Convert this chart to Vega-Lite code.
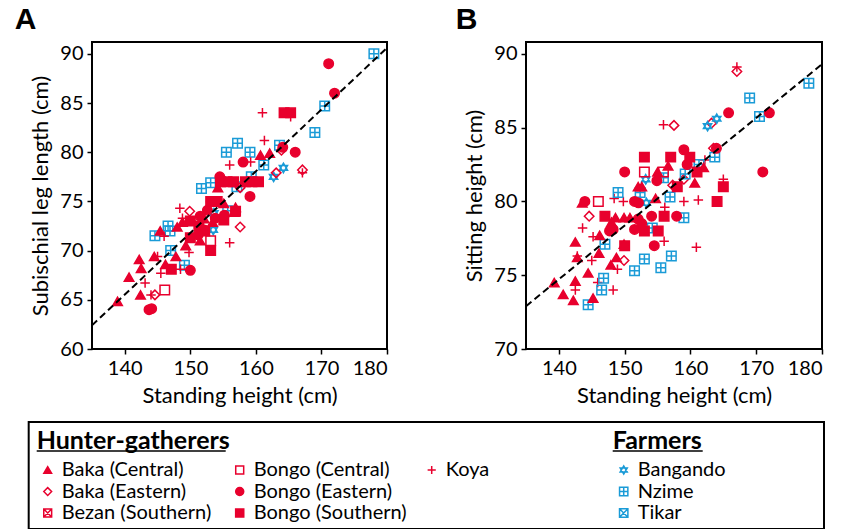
{
  "$schema": "https://vega.github.io/schema/vega-lite/v6.json",
  "padding": {"left": 13, "top": 4, "right": 0, "bottom": 1},
  "background": "white",
  "config": {
    "view": {"stroke": "black", "strokeWidth": 2},
    "axis": {"labelFont": "Lato", "labelFontSize": 20, "titleFont": "Lato", "titleFontSize": 22, "titleFontWeight": "normal", "labelColor": "black", "titleColor": "black", "tickColor": "black", "tickSize": 5, "tickWidth": 1.5, "domain": false, "grid": false, "labelPadding": 4, "titlePadding": 7, "labelOverlap": false},
    "title": {"font": "Liberation Sans", "fontSize": 30, "fontWeight": "bold", "anchor": "start", "frame": "bounds", "color": "black", "baseline": "alphabetic", "offset": 7}
  },
  "datasets": {
    "A": [
      {"g":"Nzime","h":178,"v":90},{"g":"Nzime","h":170.5,"v":84.7},{"g":"Nzime","h":169,"v":82},{"g":"Nzime","h":163.6,"v":80.7},{"g":"Nzime","h":161.2,"v":78.7},{"g":"Nzime","h":155.5,"v":80},{"g":"Nzime","h":157.2,"v":80.9},{"g":"Nzime","h":159.1,"v":80},{"g":"Nzime","h":159.3,"v":77.5},{"g":"Nzime","h":157.1,"v":76.5},{"g":"Nzime","h":151.7,"v":76.3},{"g":"Nzime","h":153.1,"v":76.9},{"g":"Nzime","h":155.7,"v":74.05},{"g":"Nzime","h":146.6,"v":72.5},{"g":"Nzime","h":146.9,"v":72},{"g":"Nzime","h":144.6,"v":71.5},{"g":"Nzime","h":147,"v":70},{"g":"Nzime","h":149.1,"v":68.5},
      {"g":"Bangando","h":164.2,"v":78.4},{"g":"Bangando","h":162.7,"v":77.5},{"g":"Bangando","h":153.6,"v":73.8},{"g":"Bangando","h":153.5,"v":72.1},
      {"g":"Baka (Eastern)","h":163.9,"v":80.2},{"g":"Baka (Eastern)","h":163.1,"v":77.9},{"g":"Baka (Eastern)","h":167.1,"v":78.2},{"g":"Baka (Eastern)","h":157.6,"v":76.4},{"g":"Baka (Eastern)","h":149.9,"v":74},{"g":"Baka (Eastern)","h":157.6,"v":72.4},{"g":"Baka (Eastern)","h":144.6,"v":65.5},
      {"g":"Bongo (Central)","h":153.1,"v":71},{"g":"Bongo (Central)","h":146.1,"v":66},
      {"g":"Koya","h":161,"v":84},{"g":"Koya","h":161.3,"v":81.2},{"g":"Koya","h":165.3,"v":83.6},{"g":"Koya","h":156,"v":78.7},{"g":"Koya","h":159.2,"v":79},{"g":"Koya","h":167.1,"v":77.9},{"g":"Koya","h":148.4,"v":74.3},{"g":"Koya","h":148.8,"v":73.3},{"g":"Koya","h":156,"v":70.8},{"g":"Koya","h":146,"v":71.45},{"g":"Koya","h":149.8,"v":69.8},{"g":"Koya","h":145.5,"v":67.7},{"g":"Koya","h":148.5,"v":68.1},{"g":"Koya","h":143.1,"v":66.7},{"g":"Koya","h":144,"v":65.5},{"g":"Koya","h":145,"v":69.4},
      {"g":"Bongo (Southern)","h":164.3,"v":84},{"g":"Bongo (Southern)","h":165.3,"v":84},{"g":"Bongo (Southern)","h":154.6,"v":77},{"g":"Bongo (Southern)","h":155.6,"v":77},{"g":"Bongo (Southern)","h":156.6,"v":77},{"g":"Bongo (Southern)","h":158.4,"v":77},{"g":"Bongo (Southern)","h":159.4,"v":77},{"g":"Bongo (Southern)","h":160.4,"v":77},{"g":"Bongo (Southern)","h":153.1,"v":75},{"g":"Bongo (Southern)","h":154.1,"v":75},{"g":"Bongo (Southern)","h":156.9,"v":74},{"g":"Bongo (Southern)","h":155.1,"v":73.1},{"g":"Bongo (Southern)","h":150,"v":73},{"g":"Bongo (Southern)","h":150,"v":71.3},{"g":"Bongo (Southern)","h":153.1,"v":70},{"g":"Bongo (Southern)","h":147.1,"v":68.1},{"g":"Bongo (Southern)","h":151.3,"v":72.5},{"g":"Bongo (Southern)","h":152.2,"v":72},
      {"g":"Bongo (Eastern)","h":171.1,"v":89},{"g":"Bongo (Eastern)","h":172,"v":86},{"g":"Bongo (Eastern)","h":164.1,"v":80.5},{"g":"Bongo (Eastern)","h":166,"v":80},{"g":"Bongo (Eastern)","h":158.05,"v":79},{"g":"Bongo (Eastern)","h":154.5,"v":77.5},{"g":"Bongo (Eastern)","h":159.1,"v":75.5},{"g":"Bongo (Eastern)","h":152.6,"v":74.1},{"g":"Bongo (Eastern)","h":151.5,"v":73.5},{"g":"Bongo (Eastern)","h":153.8,"v":73.3},{"g":"Bongo (Eastern)","h":152.1,"v":72.1},{"g":"Bongo (Eastern)","h":150,"v":68},{"g":"Bongo (Eastern)","h":143.7,"v":64},{"g":"Bongo (Eastern)","h":144.1,"v":64.1},{"g":"Bongo (Eastern)","h":155.2,"v":73.6},{"g":"Bongo (Eastern)","h":151.2,"v":71.6},{"g":"Bongo (Eastern)","h":153.2,"v":75},
      {"g":"Baka (Central)","h":160.7,"v":79.7},{"g":"Baka (Central)","h":162.1,"v":79.9},{"g":"Baka (Central)","h":154.2,"v":76.4},{"g":"Baka (Central)","h":155.1,"v":74.8},{"g":"Baka (Central)","h":156.9,"v":74.4},{"g":"Baka (Central)","h":152.1,"v":73.25},{"g":"Baka (Central)","h":148,"v":72.4},{"g":"Baka (Central)","h":145.4,"v":72},{"g":"Baka (Central)","h":142.2,"v":69.1},{"g":"Baka (Central)","h":142.5,"v":68.2},{"g":"Baka (Central)","h":140.65,"v":67.3},{"g":"Baka (Central)","h":146.2,"v":68.6},{"g":"Baka (Central)","h":144.5,"v":69.4},{"g":"Baka (Central)","h":147.8,"v":69.4},{"g":"Baka (Central)","h":142.4,"v":65.5},{"g":"Baka (Central)","h":138.9,"v":64.85},{"g":"Baka (Central)","h":148.8,"v":72.9},{"g":"Baka (Central)","h":151.5,"v":71},{"g":"Baka (Central)","h":153.4,"v":72.9},{"g":"Baka (Central)","h":156.7,"v":73.9},{"g":"Baka (Central)","h":149.3,"v":70.5}
    ],
    "B": [
      {"g":"Koya","h":167.06,"v":89.1},{"g":"Koya","h":155.9,"v":85.2},{"g":"Koya","h":162.2,"v":82.8},{"g":"Koya","h":165,"v":81.5},{"g":"Koya","h":156.1,"v":79.6},{"g":"Koya","h":159,"v":80},{"g":"Koya","h":161.2,"v":80.1},{"g":"Koya","h":148.4,"v":80.2},{"g":"Koya","h":149.8,"v":80},{"g":"Koya","h":156,"v":77.3},{"g":"Koya","h":160.9,"v":76.9},{"g":"Koya","h":143.6,"v":78.2},{"g":"Koya","h":145.2,"v":77.6},{"g":"Koya","h":142.8,"v":76.3},{"g":"Koya","h":145,"v":76},{"g":"Koya","h":148.9,"v":75.4},{"g":"Koya","h":148.25,"v":74},{"g":"Koya","h":142.5,"v":74},{"g":"Koya","h":145.9,"v":74.5},
      {"g":"Baka (Eastern)","h":167.06,"v":88.8},{"g":"Baka (Eastern)","h":157.5,"v":85.15},{"g":"Baka (Eastern)","h":163.2,"v":85.3},{"g":"Baka (Eastern)","h":163.5,"v":83.6},{"g":"Baka (Eastern)","h":159,"v":81.5},{"g":"Baka (Eastern)","h":157.3,"v":81.1},{"g":"Baka (Eastern)","h":144.6,"v":79},{"g":"Baka (Eastern)","h":149.9,"v":76},
      {"g":"Bangando","h":162.6,"v":85.1},{"g":"Bangando","h":164,"v":85.6},{"g":"Bangando","h":153.2,"v":81.5},{"g":"Bangando","h":153.3,"v":79.9},
      {"g":"Nzime","h":178,"v":88},{"g":"Nzime","h":169,"v":87},{"g":"Nzime","h":170.5,"v":85.75},{"g":"Nzime","h":163.7,"v":83},{"g":"Nzime","h":161.3,"v":82.5},{"g":"Nzime","h":155.9,"v":81.6},{"g":"Nzime","h":159.2,"v":81.85},{"g":"Nzime","h":156.9,"v":80.3},{"g":"Nzime","h":149,"v":80.6},{"g":"Nzime","h":152.35,"v":80.6},{"g":"Nzime","h":154.2,"v":78.2},{"g":"Nzime","h":159,"v":78.9},{"g":"Nzime","h":147,"v":77.1},{"g":"Nzime","h":153,"v":76.1},{"g":"Nzime","h":157.1,"v":76.3},{"g":"Nzime","h":155.5,"v":75.5},{"g":"Nzime","h":151.5,"v":75.3},{"g":"Nzime","h":146.8,"v":74.8},{"g":"Nzime","h":146.5,"v":74},{"g":"Nzime","h":144.45,"v":73},
      {"g":"Bongo (Eastern)","h":165.8,"v":86},{"g":"Bongo (Eastern)","h":172,"v":86},{"g":"Bongo (Eastern)","h":171,"v":82},{"g":"Bongo (Eastern)","h":163.95,"v":83.6},{"g":"Bongo (Eastern)","h":159,"v":83.5},{"g":"Bongo (Eastern)","h":159.5,"v":82.5},{"g":"Bongo (Eastern)","h":150,"v":82},{"g":"Bongo (Eastern)","h":154.9,"v":81.4},{"g":"Bongo (Eastern)","h":143.95,"v":80},{"g":"Bongo (Eastern)","h":151.5,"v":80},{"g":"Bongo (Eastern)","h":152.1,"v":79.9},{"g":"Bongo (Eastern)","h":154.1,"v":79},{"g":"Bongo (Eastern)","h":157.9,"v":79},{"g":"Bongo (Eastern)","h":151.5,"v":78.1},{"g":"Bongo (Eastern)","h":148.25,"v":78.1},{"g":"Bongo (Eastern)","h":147.7,"v":78},{"g":"Bongo (Eastern)","h":154.5,"v":77},{"g":"Bongo (Eastern)","h":152.05,"v":78.8},{"g":"Bongo (Eastern)","h":152.6,"v":78.5},
      {"g":"Bongo (Southern)","h":153,"v":83},{"g":"Bongo (Southern)","h":157,"v":83},{"g":"Bongo (Southern)","h":159.9,"v":83},{"g":"Bongo (Southern)","h":161,"v":82},{"g":"Bongo (Southern)","h":165,"v":81},{"g":"Bongo (Southern)","h":158,"v":81},{"g":"Bongo (Southern)","h":164.05,"v":80},{"g":"Bongo (Southern)","h":147,"v":79},{"g":"Bongo (Southern)","h":156,"v":79},{"g":"Bongo (Southern)","h":153,"v":78},{"g":"Bongo (Southern)","h":155.1,"v":78},{"g":"Bongo (Southern)","h":150,"v":77},
      {"g":"Bongo (Central)","h":153,"v":82},{"g":"Bongo (Central)","h":155.9,"v":82},{"g":"Bongo (Central)","h":146,"v":80},
      {"g":"Baka (Central)","h":156.6,"v":82.4},{"g":"Baka (Central)","h":155,"v":82},{"g":"Baka (Central)","h":162,"v":82.3},{"g":"Baka (Central)","h":160.65,"v":81.25},{"g":"Baka (Central)","h":152.05,"v":81},{"g":"Baka (Central)","h":152.6,"v":81},{"g":"Baka (Central)","h":154.7,"v":80.2},{"g":"Baka (Central)","h":143.55,"v":79.9},{"g":"Baka (Central)","h":148.6,"v":78.9},{"g":"Baka (Central)","h":149.9,"v":78.9},{"g":"Baka (Central)","h":150.8,"v":78.9},{"g":"Baka (Central)","h":149.9,"v":77.1},{"g":"Baka (Central)","h":146.2,"v":77.7},{"g":"Baka (Central)","h":142.5,"v":77.25},{"g":"Baka (Central)","h":142.8,"v":76.2},{"g":"Baka (Central)","h":146.1,"v":76.5},{"g":"Baka (Central)","h":148.75,"v":76.2},{"g":"Baka (Central)","h":147.9,"v":75.7},{"g":"Baka (Central)","h":144.45,"v":75.15},{"g":"Baka (Central)","h":142.5,"v":74.6},{"g":"Baka (Central)","h":139.3,"v":74.5},{"g":"Baka (Central)","h":140.65,"v":73.7},{"g":"Baka (Central)","h":142.2,"v":73.3},{"g":"Baka (Central)","h":145.2,"v":73.45},{"g":"Baka (Central)","h":148,"v":78.6}
    ],
    "lineA": [{"h":135,"v":62.4},{"h":180,"v":90.6}],
    "lineB": [{"h":135,"v":72.9},{"h":180,"v":89.3}],
    "legendItems": [
      {"g":"Baka (Central)","col":0,"row":1},{"g":"Baka (Eastern)","col":0,"row":2},{"g":"Bezan (Southern)","col":0,"row":3},
      {"g":"Bongo (Central)","col":1,"row":1},{"g":"Bongo (Eastern)","col":1,"row":2},{"g":"Bongo (Southern)","col":1,"row":3},
      {"g":"Koya","col":2,"row":1},
      {"g":"Bangando","col":3,"row":1},{"g":"Nzime","col":3,"row":2},{"g":"Tikar","col":3,"row":3}
    ],
    "legendTitles": [{"label":"Hunter-gatherers","col":0,"row":0},{"label":"Farmers","col":3,"row":0}]
  },
  "resolve": {"scale": {"x": "independent", "y": "independent", "size": "independent"}},
  "spacing": 14,
  "vconcat": [
    {
      "hconcat": [
        {
          "width": 295, "height": 307,
          "title": {"text": "A", "dx": -15},
          "layer": [
            {
              "data": {"name": "A"},
              "mark": {"type": "point", "strokeWidth": 1.5, "opacity": 1},
              "encoding": {
                "x": {"field": "h", "type": "quantitative", "scale": {"domain": [135, 180], "nice": false, "zero": false}, "axis": {"title": "Standing height (cm)", "values": [140,150,160,170,180]}},
                "y": {"field": "v", "type": "quantitative", "scale": {"domain": [60, 91.2], "nice": false, "zero": false}, "axis": {"title": "Subischial leg length (cm)", "values": [60,65,70,75,80,85,90]}},
                "shape": {"field": "g", "type": "nominal", "legend": null, "scale": {"domain": ["Baka (Central)","Baka (Eastern)","Bezan (Southern)","Bongo (Central)","Bongo (Eastern)","Bongo (Southern)","Koya","Bangando","Nzime","Tikar"], "range": ["triangle-up","diamond","M-1,-1H1V1H-1ZM-1,-1L1,1M1,-1L-1,1","square","circle","square","M-1,0H1M0,-1V1","M0,-1L0.866,0.5L-0.866,0.5ZM0,1L0.866,-0.5L-0.866,-0.5Z","M-1,-1H1V1H-1ZM-1,0H1M0,-1V1","M-1,-1H1V1H-1ZM-1,-1L1,1M1,-1L-1,1"]}},
                "fill": {"field": "g", "type": "nominal", "legend": null, "scale": {"domain": ["Baka (Central)","Baka (Eastern)","Bezan (Southern)","Bongo (Central)","Bongo (Eastern)","Bongo (Southern)","Koya","Bangando","Nzime","Tikar"], "range": ["#E8002D","transparent","transparent","transparent","#E8002D","#E8002D","transparent","transparent","transparent","transparent"]}},
                "stroke": {"field": "g", "type": "nominal", "legend": null, "scale": {"domain": ["Baka (Central)","Baka (Eastern)","Bezan (Southern)","Bongo (Central)","Bongo (Eastern)","Bongo (Southern)","Koya","Bangando","Nzime","Tikar"], "range": ["#E8002D","#E8002D","#E8002D","#E8002D","#E8002D","#E8002D","#E8002D","#1A9BD7","#1A9BD7","#1A9BD7"]}},
                "size": {"field": "g", "type": "nominal", "legend": null, "scale": {"domain": ["Baka (Central)","Baka (Eastern)","Bezan (Southern)","Bongo (Central)","Bongo (Eastern)","Bongo (Southern)","Koya","Bangando","Nzime","Tikar"], "range": [90,90,64,72,81,81,110,100,64,64]}}
              }
            },
            {
              "data": {"name": "lineA"},
              "mark": {"type": "line", "color": "black", "strokeDash": [7, 4], "strokeWidth": 2},
              "encoding": {
                "x": {"field": "h", "type": "quantitative"},
                "y": {"field": "v", "type": "quantitative"}
              }
            }
          ]
        },
        {
          "width": 296, "height": 307,
          "title": {"text": "B", "dx": -8},
          "layer": [
            {
              "data": {"name": "B"},
              "mark": {"type": "point", "strokeWidth": 1.5, "opacity": 1},
              "encoding": {
                "x": {"field": "h", "type": "quantitative", "scale": {"domain": [135, 180], "nice": false, "zero": false}, "axis": {"title": "Standing height (cm)", "values": [140,150,160,170,180]}},
                "y": {"field": "v", "type": "quantitative", "scale": {"domain": [70, 90.8], "nice": false, "zero": false}, "axis": {"title": "Sitting height (cm)", "values": [70,75,80,85,90]}},
                "shape": {"field": "g", "type": "nominal", "legend": null, "scale": {"domain": ["Baka (Central)","Baka (Eastern)","Bezan (Southern)","Bongo (Central)","Bongo (Eastern)","Bongo (Southern)","Koya","Bangando","Nzime","Tikar"], "range": ["triangle-up","diamond","M-1,-1H1V1H-1ZM-1,-1L1,1M1,-1L-1,1","square","circle","square","M-1,0H1M0,-1V1","M0,-1L0.866,0.5L-0.866,0.5ZM0,1L0.866,-0.5L-0.866,-0.5Z","M-1,-1H1V1H-1ZM-1,0H1M0,-1V1","M-1,-1H1V1H-1ZM-1,-1L1,1M1,-1L-1,1"]}},
                "fill": {"field": "g", "type": "nominal", "legend": null, "scale": {"domain": ["Baka (Central)","Baka (Eastern)","Bezan (Southern)","Bongo (Central)","Bongo (Eastern)","Bongo (Southern)","Koya","Bangando","Nzime","Tikar"], "range": ["#E8002D","transparent","transparent","transparent","#E8002D","#E8002D","transparent","transparent","transparent","transparent"]}},
                "stroke": {"field": "g", "type": "nominal", "legend": null, "scale": {"domain": ["Baka (Central)","Baka (Eastern)","Bezan (Southern)","Bongo (Central)","Bongo (Eastern)","Bongo (Southern)","Koya","Bangando","Nzime","Tikar"], "range": ["#E8002D","#E8002D","#E8002D","#E8002D","#E8002D","#E8002D","#E8002D","#1A9BD7","#1A9BD7","#1A9BD7"]}},
                "size": {"field": "g", "type": "nominal", "legend": null, "scale": {"domain": ["Baka (Central)","Baka (Eastern)","Bezan (Southern)","Bongo (Central)","Bongo (Eastern)","Bongo (Southern)","Koya","Bangando","Nzime","Tikar"], "range": [90,90,64,72,81,81,110,100,64,64]}}
              }
            },
            {
              "data": {"name": "lineB"},
              "mark": {"type": "line", "color": "black", "strokeDash": [7, 4], "strokeWidth": 2},
              "encoding": {
                "x": {"field": "h", "type": "quantitative"},
                "y": {"field": "v", "type": "quantitative"}
              }
            }
          ]
        }
      ],
      "spacing": 62,
      "resolve": {"scale": {"x": "independent", "y": "independent"}}
    },
    {
      "width": 732, "height": 107,
      "view": {"stroke": null},
      "layer": [
        {
          "data": {"values": [{}]},
          "mark": {"type": "rect", "fill": null, "stroke": "black", "strokeWidth": 2},
          "encoding": {
            "x": {"datum": -0.099, "type": "quantitative", "scale": {"domain": [0.2307, 4.0432], "nice": false, "zero": false}, "axis": null},
            "x2": {"datum": 4.0432},
            "y": {"datum": -1.233, "type": "quantitative", "scale": {"domain": [-1.233, 3.744], "nice": false, "zero": false, "reverse": true}, "axis": null},
            "y2": {"datum": 3.744}
          }
        },
        {
          "data": {"name": "legendItems"},
          "mark": {"type": "point", "strokeWidth": 1.5, "opacity": 1},
          "encoding": {
            "x": {"field": "col", "type": "quantitative"},
            "y": {"field": "row", "type": "quantitative"},
            "shape": {"field": "g", "type": "nominal", "legend": null, "scale": {"domain": ["Baka (Central)","Baka (Eastern)","Bezan (Southern)","Bongo (Central)","Bongo (Eastern)","Bongo (Southern)","Koya","Bangando","Nzime","Tikar"], "range": ["triangle-up","diamond","M-1,-1H1V1H-1ZM-1,-1L1,1M1,-1L-1,1","square","circle","square","M-1,0H1M0,-1V1","M0,-1L0.866,0.5L-0.866,0.5ZM0,1L0.866,-0.5L-0.866,-0.5Z","M-1,-1H1V1H-1ZM-1,0H1M0,-1V1","M-1,-1H1V1H-1ZM-1,-1L1,1M1,-1L-1,1"]}},
            "fill": {"field": "g", "type": "nominal", "legend": null, "scale": {"domain": ["Baka (Central)","Baka (Eastern)","Bezan (Southern)","Bongo (Central)","Bongo (Eastern)","Bongo (Southern)","Koya","Bangando","Nzime","Tikar"], "range": ["#E8002D","transparent","transparent","transparent","#E8002D","#E8002D","transparent","transparent","transparent","transparent"]}},
            "stroke": {"field": "g", "type": "nominal", "legend": null, "scale": {"domain": ["Baka (Central)","Baka (Eastern)","Bezan (Southern)","Bongo (Central)","Bongo (Eastern)","Bongo (Southern)","Koya","Bangando","Nzime","Tikar"], "range": ["#E8002D","#E8002D","#E8002D","#E8002D","#E8002D","#E8002D","#E8002D","#1A9BD7","#1A9BD7","#1A9BD7"]}},
            "size": {"field": "g", "type": "nominal", "legend": null, "scale": {"domain": ["Baka (Central)","Baka (Eastern)","Bezan (Southern)","Bongo (Central)","Bongo (Eastern)","Bongo (Southern)","Koya","Bangando","Nzime","Tikar"], "range": [60,70,45,45,55,45,140,75,45,45]}}
          }
        },
        {
          "data": {"name": "legendItems"},
          "mark": {"type": "text", "align": "left", "baseline": "middle", "dx": 14, "font": "Lato", "fontSize": 20, "color": "black"},
          "encoding": {
            "x": {"field": "col", "type": "quantitative"},
            "y": {"field": "row", "type": "quantitative"},
            "text": {"field": "g"}
          }
        },
        {
          "data": {"name": "legendTitles"},
          "mark": {"type": "text", "align": "left", "baseline": "alphabetic", "dx": -11, "font": "Lato", "fontSize": 25, "fontWeight": "bold", "color": "black"},
          "encoding": {
            "x": {"field": "col", "type": "quantitative"},
            "y": {"field": "row", "type": "quantitative"},
            "text": {"field": "label"}
          }
        },
        {
          "data": {"name": "legendTitles"},
          "transform": [{"filter": "datum.label == 'Hunter-gatherers'"}],
          "mark": {"type": "rule", "color": "black", "strokeWidth": 1.5, "xOffset": -11, "x2Offset": 178, "yOffset": 2.5},
          "encoding": {
            "x": {"field": "col", "type": "quantitative"},
            "x2": {"field": "col"},
            "y": {"field": "row", "type": "quantitative"}
          }
        },
        {
          "data": {"name": "legendTitles"},
          "transform": [{"filter": "datum.label == 'Farmers'"}],
          "mark": {"type": "rule", "color": "black", "strokeWidth": 1.5, "xOffset": -11, "x2Offset": 79, "yOffset": 2.5},
          "encoding": {
            "x": {"field": "col", "type": "quantitative"},
            "x2": {"field": "col"},
            "y": {"field": "row", "type": "quantitative"}
          }
        }
      ]
    }
  ]
}
